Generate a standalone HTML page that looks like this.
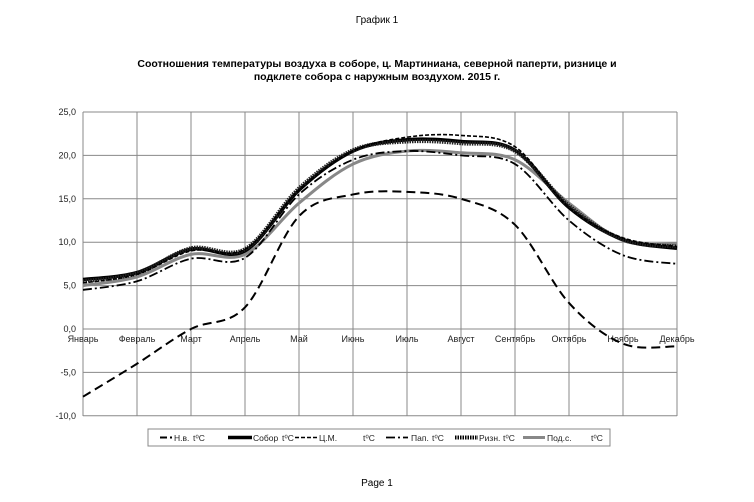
<!DOCTYPE html>
<html><head><meta charset="utf-8"><style>
body{margin:0;background:#fff;font-family:"Liberation Sans",sans-serif}
svg{display:block}
text{font-family:"Liberation Sans",sans-serif}
</style></head><body>
<svg id="s" width="754" height="502" viewBox="0 0 754 502" xmlns="http://www.w3.org/2000/svg">
<text x="377" y="23" font-size="10" text-anchor="middle">График 1</text>
<text x="377" y="67" font-size="10.5" font-weight="bold" text-anchor="middle">Соотношения температуры воздуха в соборе, ц. Мартиниана, северной паперти, ризнице и</text>
<text x="377" y="80" font-size="10.5" font-weight="bold" text-anchor="middle">подклете собора с наружным воздухом. 2015 г.</text>
<text x="377" y="486" font-size="10" text-anchor="middle">Page 1</text>
<g id="grid" stroke="#888" stroke-width="1"></g>
<g id="lbl" font-size="9" fill="#222"></g>
<g id="ser" fill="none"></g>
<rect x="148" y="429" width="462" height="17" fill="#fff" stroke="#888"/>
<g font-size="8.5" fill="#222">
<line x1="160" y1="437.5" x2="172" y2="437.5" stroke="#000" stroke-width="2" stroke-dasharray="7,3"/><text x="174" y="441">Н.в.</text><text x="193" y="441">t⁰C</text>
<line x1="228" y1="437.5" x2="252" y2="437.5" stroke="#000" stroke-width="3.5"/><text x="253" y="441">Собор</text><text x="282" y="441">t⁰C</text>
<line x1="295" y1="437.5" x2="318" y2="437.5" stroke="#000" stroke-width="1.6" stroke-dasharray="4,2"/><text x="319" y="441">Ц.М.</text><text x="363" y="441">t⁰C</text>
<line x1="386" y1="437.5" x2="408" y2="437.5" stroke="#000" stroke-width="1.8" stroke-dasharray="9,3,2,3"/><text x="411" y="441">Пап.</text><text x="432" y="441">t⁰C</text>
<line x1="455" y1="437.5" x2="478" y2="437.5" stroke="#000" stroke-width="4" stroke-dasharray="1.5,1"/><text x="479" y="441">Ризн.</text><text x="503" y="441">t⁰C</text>
<line x1="523" y1="437.5" x2="545" y2="437.5" stroke="#888" stroke-width="3"/><text x="547" y="441">Под.с.</text><text x="591" y="441">t⁰C</text>
</g>
</svg>
<script>
(function(){
const NS="http://www.w3.org/2000/svg";
const X0=83,DX=54,Y0=329,K=8.68,TOP=112,BOT=416;
const X=i=>X0+i*DX,Y=v=>Y0-v*K;
function el(p,t,a){const e=document.createElementNS(NS,t);for(const k in a)e.setAttribute(k,a[k]);document.getElementById(p).appendChild(e);return e;}
for(let i=0;i<12;i++)el("grid","line",{x1:X(i),y1:TOP,x2:X(i),y2:BOT});
for(let v=-10;v<=25;v+=5)el("grid","line",{x1:X0,y1:Y(v),x2:X(11),y2:Y(v)});
for(let v=-10;v<=25;v+=5){const t=el("lbl","text",{x:76,y:Y(v)+3,"text-anchor":"end"});t.textContent=v.toFixed(1).replace(".",",");}
const m=["Январь","Февраль","Март","Апрель","Май","Июнь","Июль","Август","Сентябрь","Октябрь","Ноябрь","Декабрь"];
m.forEach((s,i)=>{const t=el("lbl","text",{x:X(i),y:342,"text-anchor":"middle"});t.textContent=s;});
function path(d){const p=d.map((v,i)=>[X(i),Y(v)]);let s="M"+p[0];for(let i=0;i<p.length-1;i++){const a=p[i-1]||p[i],b=p[i],c=p[i+1],e=p[i+2]||c;
s+=" C"+(b[0]+(c[0]-a[0])/6)+","+(b[1]+(c[1]-a[1])/6)+" "+(c[0]-(e[0]-b[0])/6)+","+(c[1]-(e[1]-b[1])/6)+" "+c;}return s;}
const S=[
[[5,6,8.6,8.6,14.5,19,20.5,20.3,19.5,14.5,10.2,9.8],{stroke:"#888","stroke-width":3}],
[[4.5,5.5,8.1,8.2,15.5,19.5,20.5,20,19,12.5,8.5,7.5],{stroke:"#000","stroke-width":1.8,"stroke-dasharray":"9,3,2,3"}],
[[5.7,6.5,9.2,9,16,20.5,21.8,21.6,20.6,14,10.3,9.3],{stroke:"#000","stroke-width":3.5}],
[[5.5,6.4,9.3,9.2,16.2,20.6,21.6,21.4,20.5,14.2,10.3,9.5],{stroke:"#222","stroke-width":4,"stroke-dasharray":"1.5,1"}],
[[5.3,6.3,9.0,9.2,16,20.5,22.1,22.3,21,14,10.5,9.5],{stroke:"#000","stroke-width":1.6,"stroke-dasharray":"4,2"}],
[[-7.8,-4,0,2.5,13,15.5,15.8,15,12,3,-1.7,-2],{stroke:"#000","stroke-width":2,"stroke-dasharray":"9,5"}]];
S.forEach(([d,a])=>{a.d=path(d);el("ser","path",a);});
})();
</script>
</body></html>
